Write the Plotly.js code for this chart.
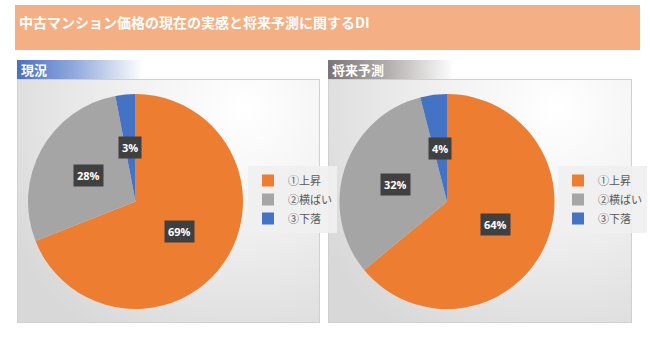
<!DOCTYPE html>
<html><head><meta charset="utf-8">
<script src="https://cdn.plot.ly/plotly-3.0.1.min.js"></script>
<style>
html,body{margin:0;padding:0;background:#fff;}
#wrap{position:relative;width:650px;height:343px;overflow:hidden;}
.bg{position:absolute;}
#banner{left:15px;top:5px;width:625px;height:45px;background:#F4B084;}
#h1{left:17px;top:60px;width:126px;height:19px;background:linear-gradient(to right,#4A70C4 0%,#90A8DC 45%,#ffffff 100%);}
#h2{left:328px;top:60px;width:126px;height:19px;background:linear-gradient(to right,#7C7474 0%,#B0AAAA 45%,#ffffff 100%);}
#b1{left:17px;top:79px;width:301px;height:242px;border:1px solid #D0D0D0;background:radial-gradient(ellipse 90% 110% at 75% 12%,#ffffff 0%,#f4f4f4 35%,#d8d8d8 100%);}
#b2{left:328px;top:79px;width:302px;height:242px;border:1px solid #D0D0D0;background:radial-gradient(ellipse 90% 110% at 75% 12%,#ffffff 0%,#f4f4f4 35%,#d8d8d8 100%);}
#chart{position:absolute;left:0;top:0;width:650px;height:343px;}
</style></head>
<body>
<div id="wrap">
<div class="bg" id="banner"></div>
<div class="bg" id="h1"></div>
<div class="bg" id="h2"></div>
<div class="bg" id="b1"></div>
<div class="bg" id="b2"></div>
<div id="chart"></div>
</div>
<script>
// ---- data ----
const chartTitle = '中古マンション価格の現在の実感と将来予測に関するDI';
const panelTitles = ['現況', '将来予測'];
const categories = ['①上昇', '②横ばい', '③下落'];
const currentValues = [69, 28, 3];
const futureValues = [64, 32, 4];

// ---- layout constants ----
const W = 650, H = 343;
const colors = ['#ED7D31', '#A5A5A5', '#4472C4'];
const R = 107.5;
const centers = [[135.5, 201.5], [447, 201.5]];
const jp = '"Noto Sans CJK JP", "Noto Sans", sans-serif';

function domainFor(c) {
  return {x: [(c[0] - R) / W, (c[0] + R) / W], y: [1 - (c[1] + R) / H, 1 - (c[1] - R) / H]};
}

const series = [currentValues, futureValues];
const traces = series.map((vals, k) => ({
  type: 'pie',
  labels: categories,
  values: vals,
  sort: false,
  direction: 'clockwise',
  rotation: 0,
  textinfo: 'none',
  hoverinfo: 'label+percent',
  marker: {colors: colors, line: {width: 0}},
  domain: domainFor(centers[k]),
  legend: k === 0 ? 'legend' : 'legend2',
  legendgroup: 'g' + k,
  showlegend: true
}));

const annotations = [];
annotations.push({
  text: '<b>' + chartTitle + '</b>', xref: 'paper', yref: 'paper', x: 17 / W, y: 1 - 21.5 / H,
  xanchor: 'left', yanchor: 'middle', showarrow: false,
  font: {family: jp, size: 14, color: '#ffffff'}
});
panelTitles.forEach((t, k) => {
  annotations.push({
    text: '<b>' + t + '</b>', xref: 'paper', yref: 'paper',
    x: (k === 0 ? 19 : 330) / W, y: 1 - 69.5 / H,
    xanchor: 'left', yanchor: 'middle', showarrow: false,
    font: {family: jp, size: 13, color: '#ffffff'}
  });
});
series.forEach((vals, k) => {
  const total = vals.reduce((a, b) => a + b, 0);
  let cum = 0;
  vals.forEach((v) => {
    const mid = (cum + v / 2) / total;
    cum += v;
    const a = mid * 2 * Math.PI;
    const px = centers[k][0] + Math.sin(a) * 0.5 * R;
    const py = centers[k][1] - Math.cos(a) * 0.5 * R;
    annotations.push({
      text: '<b>' + Math.round(v / total * 100) + '%</b>', xref: 'paper', yref: 'paper',
      x: px / W, y: 1 - py / H,
      xanchor: 'center', yanchor: 'middle', showarrow: false,
      bgcolor: '#404040', borderpad: 3,
      font: {family: '"Open Sans", sans-serif', size: 11, color: '#ffffff'}
    });
  });
});

const legendBase = {
  bgcolor: 'rgba(240,240,240,0.9)', borderwidth: 0,
  font: {family: jp, size: 11, color: '#595959'},
  xanchor: 'left', yanchor: 'top', itemclick: false, itemdoubleclick: false,
  tracegroupgap: 0, itemwidth: 30
};

const layout = {
  width: W, height: H,
  margin: {l: 0, r: 0, t: 0, b: 0},
  paper_bgcolor: 'rgba(0,0,0,0)',
  plot_bgcolor: 'rgba(0,0,0,0)',
  showlegend: true,
  legend: Object.assign({}, legendBase, {x: 248 / W, y: 1 - 166 / H}),
  legend2: Object.assign({}, legendBase, {x: 558 / W, y: 1 - 166 / H}),
  annotations: annotations
};

Plotly.newPlot('chart', traces, layout, {displayModeBar: false, staticPlot: true});
</script>
</body></html>
